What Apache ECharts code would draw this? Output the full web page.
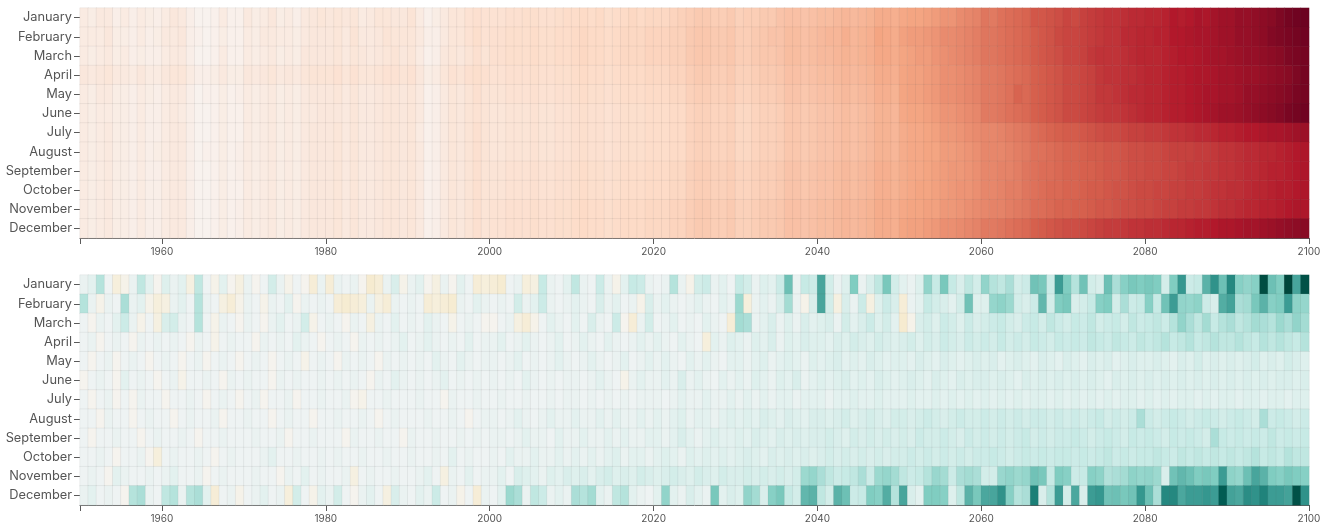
<!DOCTYPE html>
<html><head><meta charset="utf-8">
<script src="https://cdn.jsdelivr.net/npm/echarts@6/dist/echarts.min.js"></script>
<style>html,body{margin:0;padding:0;background:#fff}#chart{width:1335px;height:527px}</style>
</head><body><div id="chart"></div>
<script>
const months = ['January','February','March','April','May','June','July','August','September','October','November','December'];
const firstYear = 1950, lastYear = 2099;
const tickYears = [1950,1960,1980,2000,2020,2040,2060,2080,2100];
const labelYears = [1960,1980,2000,2020,2040,2060,2080,2100];

// Temperature anomaly (top panel), one value per year 1950..2099
const tempJan = [7,6,8,8,5,7,5,7,6,5, 7,9,8,5,3,3,4,7,4,4, 8,6,7,9,6,7,5,8,9,10, 9,10,9,10,7,8,10,10,9,9, 11,7,4,6,8,10,10,12,13,12, 12,12,13,13,14,14,13,13,14,15, 15,16,15,16,14,15,16,17,16,17, 17,17,18,19,20,21,21,20,20,21, 19,20,20,21,21,23,24,24,23,24, 25,25,26,27,26,27,28,30,30,29, 31,32,32,33,34,36,36,38,39,40, 43,42,44,45,46,47,50,50,51,52, 54,53,55,56,57,58,58,59,60,60, 61,61,62,64,63,64,66,65,67,68, 68,70,70,71,72,73,75,77,78,79];
const tempFeb = [7,7,7,9,6,6,5,7,5,6, 8,8,9,5,4,3,4,6,4,4, 7,6,8,8,7,7,6,8,9,9, 9,10,8,11,8,8,9,11,10,10, 10,8,5,5,8,10,10,12,14,12, 13,13,14,14,14,15,14,14,15,15, 16,17,16,16,15,16,17,17,17,18, 18,18,19,19,21,22,22,21,21,22, 20,20,21,22,23,23,25,25,24,25, 26,27,27,29,27,28,29,32,31,30, 33,34,34,35,36,38,38,39,40,41, 43,43,44,45,46,47,49,50,51,53, 54,54,55,56,57,58,58,60,60,61, 61,62,62,64,64,65,66,66,67,68, 68,70,70,71,72,74,75,76,77,78];
const tempMar = [7,6,7,8,6,7,5,6,5,5, 7,8,8,5,3,3,4,7,4,4, 7,6,7,8,6,7,6,9,9,9, 9,10,8,10,9,8,9,10,11,9, 10,7,4,5,9,10,9,11,13,11, 13,13,14,14,14,15,14,14,15,15, 16,17,16,16,15,16,17,17,17,18, 18,18,19,19,21,22,22,21,21,22, 20,20,21,22,22,23,25,25,24,25, 26,26,27,28,27,28,29,31,31,30, 32,33,34,34,36,37,38,39,40,41, 43,43,44,45,46,47,49,50,51,52, 54,54,55,57,58,58,58,59,60,61, 61,61,62,63,64,64,65,66,67,67, 68,69,70,70,71,72,73,75,76,77];
const tempApr = [9,8,9,10,8,8,7,9,7,7, 9,10,10,7,5,5,6,8,6,6, 9,8,9,10,8,9,8,10,11,11, 11,12,10,12,10,10,11,12,12,11, 12,9,6,7,10,12,11,13,14,13, 12,12,13,13,13,14,13,13,14,14, 15,16,15,15,14,15,16,16,16,17, 17,17,18,18,20,21,21,20,20,21, 19,19,20,21,21,22,24,24,23,24, 25,25,26,27,26,27,28,30,30,29, 32,33,33,34,35,37,37,38,39,40, 42,42,43,44,45,46,48,49,50,51, 53,53,54,55,57,58,58,59,59,60, 61,61,62,63,63,64,65,65,66,67, 67,68,69,69,70,71,72,73,75,77];
const tempMay = [7,6,8,8,6,6,5,7,6,5, 7,8,8,5,3,4,4,6,4,5, 7,6,7,8,6,7,6,8,9,9, 9,10,8,10,8,8,9,10,10,9, 10,8,4,5,8,10,9,11,13,11, 11,11,12,12,12,13,12,12,13,13, 14,15,14,14,13,14,15,15,15,16, 16,16,17,17,19,20,20,19,19,20, 18,18,19,20,20,21,23,23,22,23, 24,24,25,26,25,26,27,29,29,28, 32,33,33,34,35,37,37,38,39,40, 42,42,43,44,47,46,48,49,50,51, 53,53,54,55,57,57,58,59,60,60, 61,61,62,63,63,64,65,66,66,67, 67,68,70,70,71,72,73,74,76,77];
const tempJun = [7,6,7,7,6,6,5,7,5,5, 7,8,7,5,3,3,4,6,4,4, 7,6,7,8,6,7,6,8,8,9, 9,9,8,10,8,8,9,10,10,9, 10,8,4,5,8,10,9,11,12,11, 10,10,11,11,11,12,11,11,12,12, 13,14,13,13,12,13,14,14,14,15, 15,15,16,16,18,19,19,18,18,19, 17,17,18,19,19,20,22,22,21,22, 23,23,24,25,24,25,26,28,28,27, 31,32,32,33,34,36,36,37,38,39, 42,42,43,44,45,46,48,49,50,51, 53,53,54,55,56,57,57,58,59,60, 61,61,62,63,63,64,65,66,67,68, 68,69,70,71,72,73,74,76,77,78];
const tempJul = [7,6,7,8,6,6,5,7,5,5, 7,8,8,5,3,3,4,6,4,4, 7,6,7,8,6,7,6,8,9,9, 9,10,8,10,8,8,9,10,10,9, 10,7,4,5,8,10,9,11,13,11, 10,10,11,11,11,12,11,11,12,12, 13,14,13,13,12,13,14,14,14,15, 15,15,16,16,18,19,19,18,18,19, 17,17,18,19,19,20,22,22,21,22, 23,23,24,25,24,25,26,28,28,27, 30,31,31,32,33,35,35,36,37,38, 39,39,40,41,42,43,45,46,47,48, 49,49,50,51,52,53,53,54,55,55, 56,56,57,58,58,59,60,60,61,62, 62,63,64,64,65,66,66,67,68,69];
const tempAug = [7,6,7,8,6,6,5,7,5,6, 7,8,8,5,3,4,4,6,4,5, 7,6,7,8,6,7,6,8,9,9, 9,10,8,10,8,8,9,10,10,9, 10,8,4,5,8,10,9,11,13,11, 10,10,11,11,11,12,11,11,12,12, 13,14,13,13,12,13,14,14,14,15, 15,15,16,16,18,19,19,18,18,19, 17,17,18,19,19,20,22,22,21,22, 23,23,24,25,24,25,26,28,28,27, 30,31,31,32,32,34,34,35,36,37, 39,39,39,40,41,42,44,44,45,46, 47,47,48,49,49,50,50,51,52,52, 53,53,54,55,55,55,56,56,57,58, 58,59,60,60,61,61,62,63,64,65];
const tempSep = [7,6,7,8,6,6,5,7,5,5, 7,8,8,5,3,3,4,6,4,5, 7,6,7,8,6,7,6,8,9,9, 9,10,8,10,8,8,9,10,10,9, 10,8,4,5,8,10,9,11,13,11, 11,11,12,12,12,13,12,12,13,13, 14,15,14,14,13,14,15,15,15,16, 16,16,17,17,19,20,20,19,19,20, 18,18,19,20,20,21,23,23,22,23, 24,24,25,26,25,26,27,29,29,28, 30,31,31,32,33,34,35,35,36,37, 39,39,40,40,41,43,44,45,45,46, 47,47,48,48,49,50,50,51,52,52, 53,53,54,54,55,56,56,57,57,58, 58,59,60,60,61,62,62,63,64,65];
const tempOct = [7,6,7,8,6,6,5,7,5,5, 7,8,8,5,3,3,4,6,4,4, 7,6,7,8,6,7,6,8,9,9, 9,10,8,10,8,8,9,10,10,9, 10,8,4,5,8,10,9,11,13,11, 11,11,12,12,12,13,12,12,13,13, 14,15,14,14,13,14,15,15,15,16, 16,16,17,17,19,20,20,19,19,20, 18,18,19,20,20,21,23,23,22,23, 24,24,25,26,25,26,27,29,29,28, 30,31,32,32,33,34,35,36,36,37, 39,39,40,41,41,43,44,45,46,46, 47,47,48,49,49,50,51,51,52,53, 53,54,54,55,55,56,56,57,58,58, 59,59,60,61,61,62,63,63,64,65];
const tempNov = [7,6,7,8,6,6,5,7,5,5, 7,8,8,5,3,3,4,6,4,5, 7,6,7,8,6,7,6,8,9,9, 9,10,8,10,8,8,9,10,10,9, 10,8,4,5,8,10,9,11,13,11, 12,12,13,13,13,14,13,13,14,14, 15,16,15,15,14,15,16,16,16,17, 17,17,18,18,20,21,21,20,20,21, 19,19,20,21,21,22,24,24,23,24, 25,25,26,27,26,27,28,30,30,29, 31,32,32,33,33,35,35,36,37,38, 39,40,40,41,42,43,45,45,46,47, 47,48,48,49,50,50,51,52,52,53, 53,54,55,55,56,56,57,57,58,59, 59,60,61,61,62,62,63,64,65,65];
const tempDec = [7,6,7,8,6,6,5,7,5,5, 7,8,8,5,3,3,4,6,4,5, 7,6,7,8,6,7,6,8,9,9, 9,10,8,10,8,8,9,10,10,9, 10,8,4,5,8,10,9,11,13,11, 12,12,13,13,13,14,13,13,14,14, 15,16,15,15,14,15,16,16,16,17, 17,17,18,18,20,21,21,20,20,21, 19,19,20,21,21,22,24,24,23,24, 25,25,26,27,26,27,28,30,30,29, 32,33,33,34,35,37,37,38,39,40, 42,42,43,44,45,46,48,49,50,51, 52,52,53,54,55,56,56,57,58,58, 59,59,60,61,61,62,63,63,64,65, 65,66,67,67,68,69,70,71,72,73];

// Precipitation anomaly (bottom panel), one value per year 1950..2099
const precJan = [5,8,25,3,-10,-5,5,22,8,-3, 10,5,8,-8,22,3,-5,8,-3,-8, 5,-3,3,15,5,-5,3,-3,-12,5, -12,5,3,5,-3,-15,-12,5,12,-5, 5,8,-3,-8,5,-3,8,3,-12,-10, -12,-14,3,5,-10,-8,20,5,3,8, 22,5,3,18,5,-5,8,20,18,5, 3,5,25,5,-5,15,18,5,8,3, 20,15,5,10,8,18,45,5,20,18, 55,15,5,10,40,5,12,22,42,15, 8,5,10,35,20,42,20,12,22,15, 35,25,22,28,15,18,44,42,18,58, 40,25,44,15,12,45,28,38,42,40, 42,40,15,40,60,18,20,50,62,45, 66,38,35,38,92,45,40,95,55,90];
const precFeb = [25,5,-5,5,3,28,5,8,-5,-10, -8,5,8,3,25,5,3,-8,-12,-5, 5,3,-5,5,3,8,-3,5,3,5, 3,-12,-14,-12,-10,5,-8,-12,5,3, 5,3,-12,-10,-12,-14,5,3,8,5, 3,5,3,15,5,8,18,5,3,5, 8,5,3,12,5,8,3,5,-5,12, 5,8,5,3,5,8,5,3,8,5, 32,-10,5,8,5,12,30,5,-5,12, 55,15,-8,12,5,18,-8,10,18,12, -12,5,8,20,15,12,8,15,44,10, 10,34,36,32,15,12,18,48,15,40, 42,12,15,20,38,40,15,28,18,20, 38,20,44,58,35,34,36,18,12,52, 56,28,30,42,50,38,40,58,36,34];
const precMar = [3,-3,5,3,8,18,5,-5,3,-8, 12,15,5,3,25,3,-5,5,3,-3, 5,3,-3,5,8,3,5,15,-5,3, 5,3,-3,5,3,-8,5,3,8,3, 5,3,8,5,3,-5,3,5,3,-3, -3,3,5,-8,-12,-5,3,8,5,3, 8,3,12,5,3,18,-3,-12,5,15, 3,5,8,3,5,3,8,5,3,-12, 30,28,5,8,12,5,10,5,12,8, 10,12,5,15,8,12,18,10,15,8, -15,-5,12,15,10,18,15,10,18,12, 15,18,20,15,12,18,20,15,22,18, 15,20,18,22,15,18,20,15,22,18, 20,22,18,25,35,28,22,30,20,25, 28,22,25,30,28,25,32,28,35,30];
const precApr = [3,5,-3,3,5,3,-3,5,3,5, 3,5,3,-3,5,3,-5,3,5,3, 3,-3,5,3,5,3,8,5,3,-3, 3,5,3,-3,5,3,5,3,5,8, 3,5,8,5,3,5,3,8,3,5, 5,8,3,5,8,5,3,5,8,3, 5,8,5,3,8,5,3,5,8,5, 8,5,3,8,5,3,-10,8,5,10, 8,5,10,8,12,5,10,8,12,10, 10,8,12,10,15,12,10,15,12,10, 12,15,10,15,12,18,15,12,18,15, 18,15,20,15,18,15,20,18,15,20, 18,20,18,22,20,18,22,20,18,22, 20,22,25,20,22,25,20,22,25,22, 22,25,22,20,25,22,25,22,20,25];
const precMay = [3,-3,3,5,-3,3,5,3,-3,3, 5,3,-3,3,5,-3,3,5,3,-3, 3,5,3,-3,3,5,3,-5,3,5, 3,-3,5,3,5,3,-3,5,3,5, 3,5,3,8,5,3,8,5,3,5, 5,3,5,8,3,5,3,5,8,5, 3,5,8,5,3,5,8,3,5,8, 5,8,5,3,8,5,8,5,3,8, 8,5,8,10,5,8,10,8,5,10, 8,10,12,8,10,8,12,10,8,10, 10,8,12,10,8,12,10,8,10,12, 10,12,8,10,12,10,8,12,10,8, 12,10,8,12,10,12,8,10,12,10, 10,12,10,8,12,10,15,10,12,10, 12,10,12,15,10,12,10,15,12,10];
const precJun = [-3,3,5,3,-3,8,3,5,3,-3, 3,5,-5,3,3,5,3,-3,5,3, 5,3,3,-3,5,3,5,3,3,5, 3,5,3,5,3,-3,5,3,8,5, 3,5,3,5,8,3,5,3,5,3, 5,3,5,3,8,5,3,5,3,5, 5,3,5,8,5,3,-5,5,8,5, 5,8,5,12,5,8,5,3,8,5, 8,5,10,8,5,10,8,12,5,8, 10,8,10,12,8,10,8,12,10,8, 10,12,10,8,12,10,8,12,10,12, 12,10,12,10,8,12,10,12,10,12, 10,12,10,12,10,8,12,10,12,10, 12,10,12,10,12,10,12,10,12,10, 12,10,12,10,12,10,12,12,10,12];
const precJul = [3,-3,3,5,-3,3,-3,5,3,3, -3,3,3,5,3,-3,3,5,3,-3, 3,5,-3,3,3,5,-3,3,3,5, 3,3,5,-3,-5,3,3,5,3,3, 3,5,3,3,-3,5,3,3,5,3, 3,5,3,3,5,3,3,5,3,5, 5,3,5,3,5,3,5,3,5,5, 5,3,5,8,5,5,8,5,5,8, 5,8,5,8,5,8,8,5,8,8, 8,5,8,8,10,8,8,10,8,8, 8,10,8,8,10,8,10,8,10,8, 10,8,10,8,10,8,10,10,8,10, 8,10,8,10,8,10,8,10,10,8, 10,8,10,8,10,10,8,10,8,10, 10,8,10,10,8,10,10,8,10,10];
const precAug = [3,3,-3,5,3,3,-3,3,5,3, 3,-3,3,5,3,3,5,-3,3,3, 5,3,3,-3,3,5,3,3,-3,3, 3,5,3,3,5,3,-3,3,5,3, 3,3,5,3,3,5,3,-3,3,5, 5,3,5,8,5,3,5,8,5,5, 8,5,5,8,5,8,5,5,8,5, 8,5,8,10,5,8,8,5,8,10, 8,10,8,12,10,8,12,10,8,12, 12,10,12,15,10,12,15,12,10,15, 15,12,15,18,15,12,15,18,15,15, 18,15,18,15,18,15,18,18,15,18, 15,18,15,18,20,15,18,15,18,28, 18,15,18,20,18,15,18,20,18,15, 18,20,18,15,28,18,20,18,15,18];
const precSep = [3,-3,3,3,5,3,3,-3,3,5, 3,3,5,3,-3,3,3,5,3,3, 3,5,3,3,5,-3,3,3,5,3, 3,3,-3,5,3,3,5,3,3,-3, 5,3,3,5,3,3,5,3,5,3, 5,5,3,5,8,5,5,3,8,5, 5,8,5,5,8,5,8,5,5,8, 8,5,8,12,8,5,8,10,8,8, 10,8,12,10,8,12,10,12,10,12, 12,15,12,10,15,12,15,12,15,12, 15,12,18,15,15,18,15,12,18,15, 18,15,18,15,18,20,15,18,15,18, 18,20,18,15,18,20,18,15,20,18, 20,18,15,20,18,20,18,15,28,20, 18,20,18,20,18,22,18,20,18,20];
const precOct = [3,3,5,3,-3,3,3,5,-3,-10, 3,5,3,3,5,3,-3,3,5,3, 3,3,5,8,3,3,5,3,3,5, 3,5,3,3,5,3,3,5,3,3, 5,3,3,5,3,8,3,5,3,3, 5,3,8,5,5,8,5,5,8,5, 8,5,8,5,8,10,5,8,8,5, 8,10,8,5,10,8,10,8,10,8, 10,12,10,8,12,10,12,10,12,10, 12,15,12,15,12,15,12,15,12,15, 15,18,15,18,15,18,15,18,15,18, 18,20,18,15,18,20,18,20,18,20, 20,18,20,18,20,22,18,20,18,20, 20,22,20,18,22,20,22,20,22,20, 22,20,22,25,20,22,20,25,22,22];
const precNov = [3,5,3,-3,8,5,3,3,5,3, 5,8,3,3,5,-3,3,5,3,3, 3,5,3,3,-3,5,3,8,3,5, 3,3,5,-8,3,5,3,3,5,3, 3,5,8,3,-8,5,3,8,3,5, 5,8,3,12,10,8,5,10,8,12, 10,12,8,12,15,10,12,10,15,12, 10,12,15,12,10,15,12,10,15,12, 12,15,12,15,12,15,12,15,32,34, 28,22,18,20,22,28,18,32,34,30, 22,18,20,25,33,30,18,28,30,28, 15,15,33,35,32,34,44,42,20,40, 38,18,20,38,36,26,28,30,36,34, 35,32,12,44,48,45,40,42,40,58, 36,34,45,55,50,40,38,42,40,38];
const precDec = [5,8,3,5,3,-3,25,28,5,3, 22,25,5,25,28,8,-12,3,5,-5, 3,5,8,3,5,-10,15,3,-5,8, 5,15,3,-3,5,8,3,-8,12,5, 3,8,5,18,3,5,-5,3,-12,5, 3,8,32,28,5,22,18,5,8,5, 28,25,30,8,5,22,25,8,5,3, 8,35,8,5,12,8,5,42,8,12, 10,35,30,12,38,42,20,15,48,50, 22,15,50,45,18,20,40,38,52,25, 55,12,8,40,40,38,10,22,50,42, 54,55,62,38,25,28,70,12,25,58, 15,54,12,58,60,44,45,42,44,60, 45,28,66,66,54,58,58,60,58,85, 56,54,64,62,68,58,58,56,90,62];

const tempRows = [tempJan,tempFeb,tempMar,tempApr,tempMay,tempJun,tempJul,tempAug,tempSep,tempOct,tempNov,tempDec];
const precRows = [precJan,precFeb,precMar,precApr,precMay,precJun,precJul,precAug,precSep,precOct,precNov,precDec];

const years = [];
for (let y = firstYear; y <= lastYear; y++) years.push(String(y));

function cells(rows) {
  const out = [];
  rows.forEach((row, m) => row.forEach((v, i) => out.push([i, m, v])));
  return out;
}

const font = 'Inter, "Open Sans", sans-serif';
const axisGrey = '#5a5a5a';

function yAxisFor(g) {
  return {
    type: 'category', gridIndex: g, data: months, inverse: true,
    axisLine: { show: false },
    axisTick: { show: true, length: 6, alignWithLabel: true, lineStyle: { color: axisGrey } },
    axisLabel: { margin: 8, color: '#555', fontSize: 12.8, fontFamily: font },
    splitLine: { show: false }
  };
}
function xCatFor(g) {
  return { type: 'category', gridIndex: g, data: years, show: false };
}
function xValFor(g) {
  return {
    type: 'value', gridIndex: g, position: 'bottom', min: 1950, max: 2100,
    axisLine: { show: true, lineStyle: { color: axisGrey, width: 1 } },
    axisTick: { show: true, length: 6, customValues: tickYears, lineStyle: { color: axisGrey } },
    axisLabel: { customValues: labelYears, formatter: v => String(v), margin: 9, color: '#555', fontSize: 10, fontFamily: font },
    splitLine: { show: false }
  };
}

const chart = echarts.init(document.getElementById('chart'), null, { renderer: 'canvas' });
chart.setOption({
  animation: false,
  backgroundColor: '#ffffff',
  grid: [
    { left: 80, right: 26, top: 8, height: 230 },
    { left: 80, right: 26, top: 275, height: 230 }
  ],
  xAxis: [xCatFor(0), xValFor(0), xCatFor(1), xValFor(1)],
  yAxis: [yAxisFor(0), yAxisFor(1)],
  visualMap: [
    { type: 'continuous', show: false, seriesIndex: 0, dimension: 2, min: 0, max: 80,
      inRange: { color: ['#f7f7f7', '#fddbc7', '#f4a582', '#d6604d', '#b2182b', '#67001f'] } },
    { type: 'continuous', show: false, seriesIndex: 1, dimension: 2, min: -100, max: 100,
      inRange: { color: ['#543005', '#8c510a', '#bf812d', '#dfc27d', '#f6e8c3', '#f5f5f5', '#c7eae5', '#80cdc1', '#35978f', '#01665e', '#003c30'] } }
  ],
  series: [
    { type: 'heatmap', xAxisIndex: 0, yAxisIndex: 0, data: cells(tempRows), progressive: 0,
      itemStyle: { borderColor: 'rgba(90,90,90,0.14)', borderWidth: 0.5 }, emphasis: { disabled: true } },
    { type: 'heatmap', xAxisIndex: 2, yAxisIndex: 1, data: cells(precRows), progressive: 0,
      itemStyle: { borderColor: 'rgba(90,90,90,0.14)', borderWidth: 0.5 }, emphasis: { disabled: true } }
  ]
});
</script>
</body></html>
